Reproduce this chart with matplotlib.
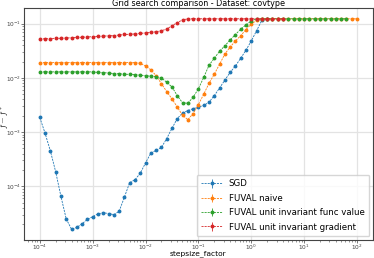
import numpy as np
import matplotlib
matplotlib.use("Agg")
import matplotlib.pyplot as plt

# stepsize factors (x grid, 10 points per decade from 1e-4 to 1e2)
stepsize = np.logspace(-4, 2, 61)

sgd = [1.86e-3, 9.5e-4, 4.5e-4, 1.86e-4, 6.5e-5, 2.5e-5, 1.62e-5, 1.74e-5, 2.04e-5, 2.45e-5,
       2.75e-5, 3.1e-5, 3.25e-5, 3.15e-5, 3.0e-5, 3.45e-5, 6.3e-5, 1.17e-4, 1.32e-4, 1.74e-4,
       2.7e-4, 4.1e-4, 4.6e-4, 5.2e-4, 7.6e-4, 1.17e-3, 1.78e-3, 2.24e-3, 2.5e-3, 2.7e-3,
       2.9e-3, 3.1e-3, 3.55e-3, 4.7e-3, 6.5e-3, 9.1e-3, 1.26e-2, 1.66e-2, 2.3e-2, 3.25e-2,
       4.8e-2, 7.4e-2, 0.115, 0.123]

fuval_naive = [0.0192] * 19 + [
    0.0185, 0.0166, 0.0141, 0.0110, 0.0078, 0.0056, 0.0041, 0.0029, 0.00204, 0.0017,
    0.00219, 0.0032, 0.0050, 0.0079, 0.0117, 0.0178, 0.0275, 0.037, 0.048, 0.060,
    0.078, 0.098, 0.115] + [0.123] * 19

fuval_func = [0.0129] * 11 + [
    0.0126, 0.0125, 0.0123, 0.0120, 0.0119, 0.0117, 0.0116, 0.0115, 0.0112, 0.0110,
    0.0107, 0.0105, 0.0100, 0.0083, 0.0068, 0.0047, 0.00347, 0.0034, 0.0044, 0.0063,
    0.0102, 0.0170, 0.023, 0.031, 0.039, 0.050, 0.063, 0.079, 0.095, 0.112] + [0.123] * 18

fuval_grad = [0.0525, 0.0525, 0.0531, 0.0537, 0.0537, 0.0543, 0.0550, 0.0556, 0.0562, 0.0569,
              0.0575, 0.0582, 0.0589, 0.0596, 0.0603, 0.0617, 0.0631, 0.0638, 0.0646, 0.0661,
              0.0676, 0.0692, 0.0708, 0.0741, 0.0794, 0.0912, 0.105, 0.117] + [0.123] * 19

labels = ["SGD", "FUVAL naive", "FUVAL unit invariant func value", "FUVAL unit invariant gradient"]
colors = ["#1f77b4", "#ff7f0e", "#2ca02c", "#d62728"]
series = [sgd, fuval_naive, fuval_func, fuval_grad]

plt.rcParams["mathtext.fontset"] = "cm"

fig = plt.figure(figsize=(3.74, 2.58), dpi=100)
ax = fig.add_axes([0.064, 0.071, 0.933, 0.897])

for vals, lab, col in zip(series, labels, colors):
    n = len(vals)
    ax.errorbar(stepsize[:n], vals, yerr=np.zeros(n), fmt="o", ls=(0, (2.5, 1.2)),
                lw=0.6, color=col, ms=1.8, elinewidth=0.6, label=lab)

ax.set_xscale("log")
ax.set_yscale("log")
ax.grid(True, which="major", color="#e3e3e3", lw=0.9)
ax.set_axisbelow(True)
for s in ax.spines.values():
    s.set_color("#444444")
    s.set_linewidth(0.8)
ax.tick_params(which="major", labelsize=4.2, length=2, width=0.5, colors="#444444", pad=0.1)
ax.tick_params(which="minor", length=1.2, width=0.4, colors="#444444")
ax.set_title("Grid search comparison - Dataset: covtype", fontsize=5.8, pad=1)
ax.set_xlabel("stepsize_factor", fontsize=5.4, va="top")
ax.xaxis.set_label_coords(0.5, -0.047)
ax.set_ylabel(r"$f - f^{*}$", fontsize=6.2, va="center", ha="center")
ax.yaxis.set_label_coords(-0.054, 0.53)
leg = ax.legend(loc="lower right", fontsize=6.2, frameon=True, fancybox=True,
                handlelength=2.4, borderpad=0.55, labelspacing=0.62, edgecolor="#cccccc",
                borderaxespad=0.4)

fig.savefig("out.png", dpi=100)
